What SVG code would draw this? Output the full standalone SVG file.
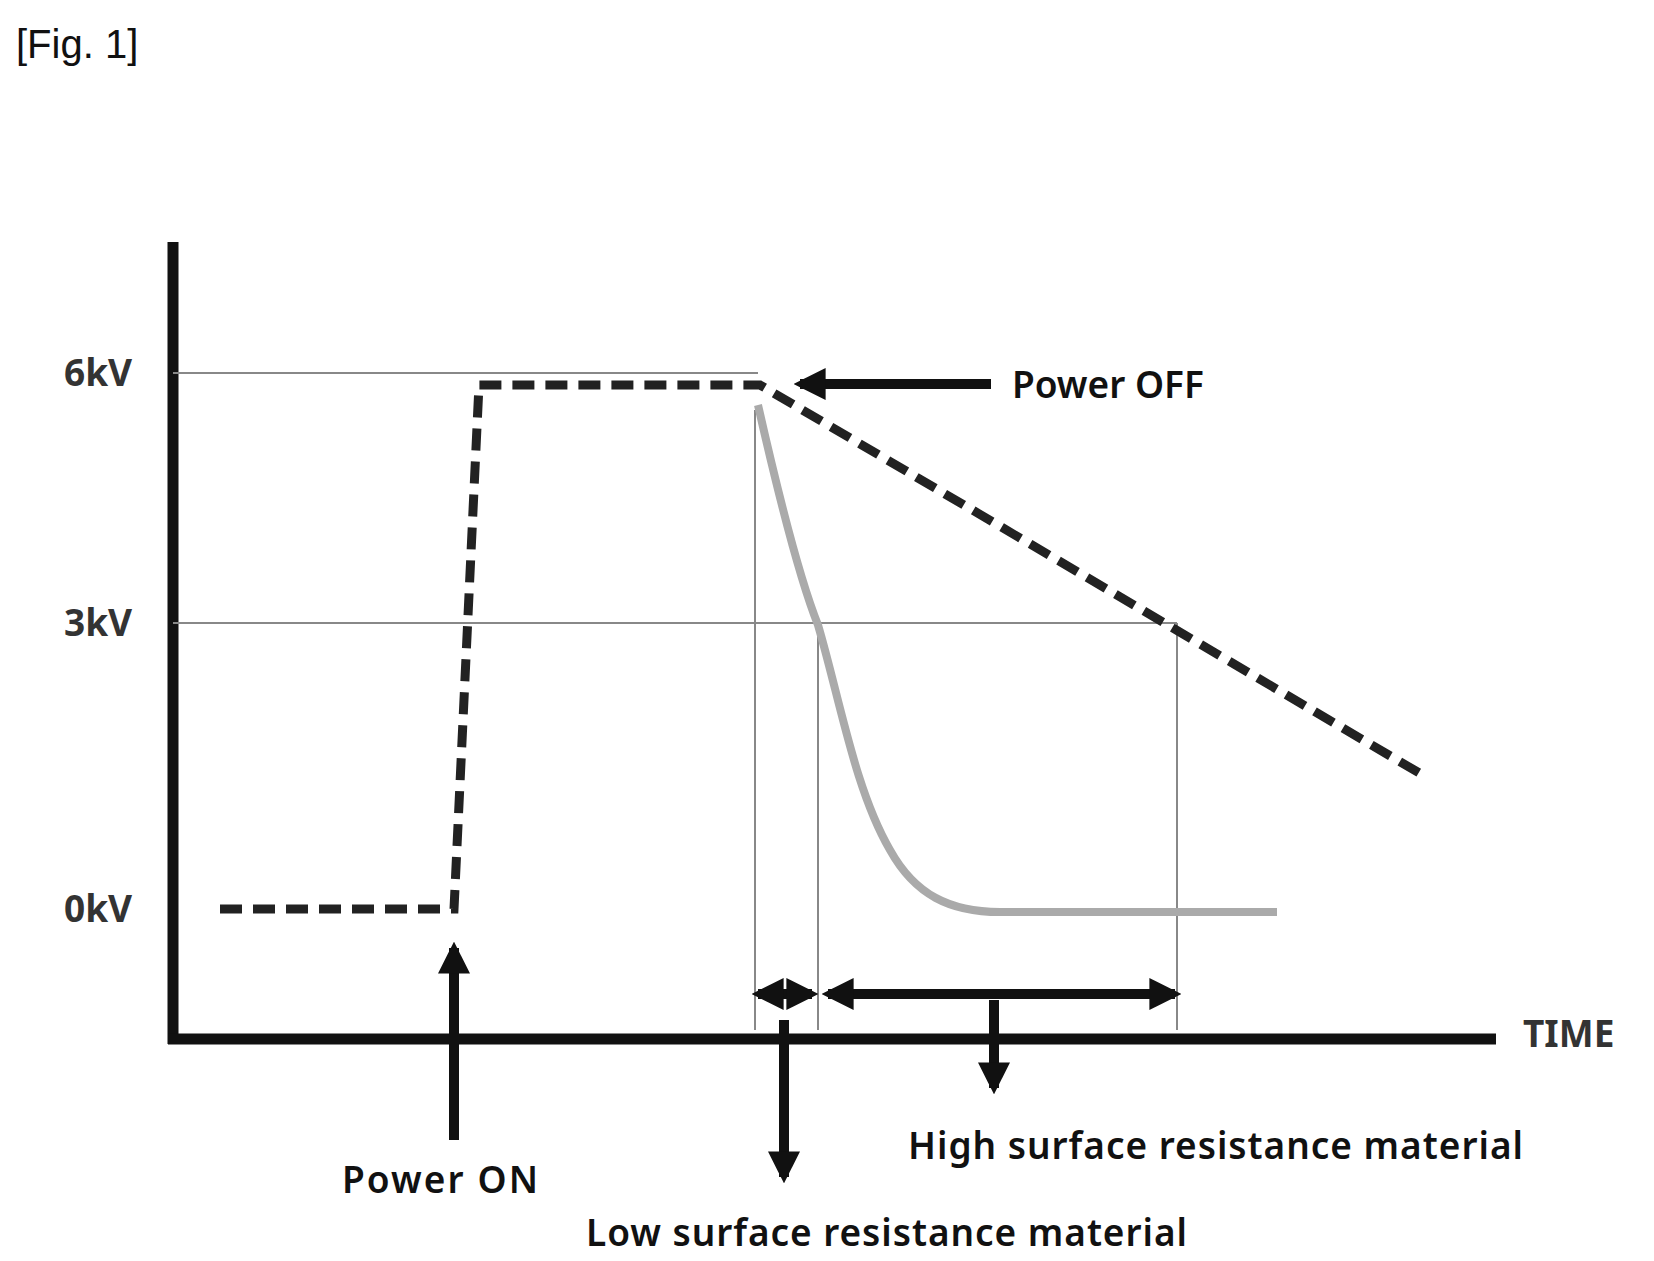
<svg xmlns="http://www.w3.org/2000/svg" width="1654" height="1261" viewBox="0 0 1654 1261">
<style>
text{font-family:"Noto Sans","Open Sans",sans-serif;fill:#111}
.lbl{font-size:37px;font-weight:600}
.ax{font-size:37px;font-weight:bold;fill:#333}
.thin{stroke:#888;stroke-width:2;fill:none}
.arr{stroke:#111;stroke-width:10;fill:none}
</style>
<defs>
<marker id="ah" viewBox="0 0 10 10" refX="8" refY="5" markerWidth="3.2" markerHeight="3.2" orient="auto-start-reverse">
<path d="M0,0 L10,5 L0,10 z" fill="#111"/>
</marker>
</defs>
<rect width="1654" height="1261" fill="#fff"/>
<text x="16" y="58" style="font-family:'Liberation Sans',sans-serif;font-size:40px">[Fig. 1]</text>
<g id="axes">
<line x1="173" y1="242" x2="173" y2="1044" stroke="#111" stroke-width="11"/>
<line x1="168" y1="1039" x2="1496" y2="1039" stroke="#111" stroke-width="11"/>
<text class="ax" x="64" y="386">6kV</text>
<text class="ax" x="64" y="636">3kV</text>
<text class="ax" x="64" y="922">0kV</text>
<text class="ax" x="1523" y="1047">TIME</text>
</g>
<g id="guides">
<line class="thin" x1="173" y1="373" x2="758" y2="373"/>
<line class="thin" x1="173" y1="623" x2="1177" y2="623"/>
<line class="thin" x1="755" y1="410" x2="755" y2="1030"/>
<line class="thin" x1="818" y1="623" x2="818" y2="1030"/>
<line class="thin" x1="1177" y1="623" x2="1177" y2="1030"/>
</g>
<g id="curves">
<polyline points="220,909 454,909 479,385 760,385 1426,777" fill="none" stroke="#222" stroke-width="9" stroke-dasharray="22,11"/>
<path d="M758,405 C775,480 800,580 818,625 C840,700 855,790 890,850 C915,895 950,912 1000,912 L1277,912" fill="none" stroke="#aaa" stroke-width="8"/>
</g>
<g id="connectors">
<line class="arr" x1="991" y1="384" x2="800" y2="384" marker-end="url(#ah)"/>
<line class="arr" x1="454" y1="1140" x2="454" y2="948" marker-end="url(#ah)"/>
<line class="arr" x1="784" y1="1020" x2="784" y2="1177" marker-end="url(#ah)"/>
<line class="arr" x1="758" y1="994" x2="812" y2="994" marker-start="url(#ah)" marker-end="url(#ah)"/>
<line class="arr" x1="828" y1="994" x2="1175" y2="994" marker-start="url(#ah)" marker-end="url(#ah)"/>
<line class="arr" x1="994" y1="1000" x2="994" y2="1088" marker-end="url(#ah)"/>
</g>
<g id="labels">
<text class="lbl" x="1012" y="398">Power OFF</text>
<text class="lbl" x="342" y="1193" textLength="196">Power ON</text>
<text class="lbl" x="908" y="1159" textLength="615">High surface resistance material</text>
<text class="lbl" x="586" y="1246" textLength="601">Low surface resistance material</text>
</g>
</svg>
